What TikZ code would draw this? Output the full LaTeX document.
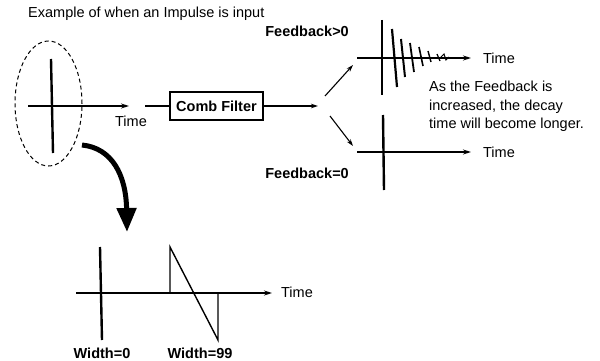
\documentclass[tikz,border=0pt]{standalone}
\usepackage{fontspec}
\setmainfont{Liberation Sans}
\usepackage{xcolor}
\usetikzlibrary{arrows.meta,positioning,shapes.geometric}

\begin{document}
\begin{tikzpicture}[
  x=1pt, y=-1pt,
  txt/.style={font=\fontsize{14.5}{18.5}\selectfont, inner sep=0pt},
  btxt/.style={font=\fontsize{14.5}{18.5}\selectfont\bfseries, inner sep=0pt},
  axis/.style={line width=1.2pt, -{Stealth[length=8pt,width=5pt]}},
  wire/.style={line width=1.2pt},
  arr/.style={line width=1.1pt, -{Stealth[length=7pt,width=4.5pt]}},
  spike/.style={line width=2.4pt},
  ramp/.style={line width=1.4pt, line join=miter},
  filterbox/.style={draw, line width=1.2pt, minimum width=93pt, minimum height=28pt,
    inner sep=0pt, font=\fontsize{14.5}{18.5}\selectfont\bfseries},
  bigarr/.style={line width=5pt, -{Triangle[length=24pt,width=19pt]}}
]
\useasboundingbox (0,0) rectangle (600,361);

% title
\node[txt, anchor=base west] (title) at (28,18) {Example of when an Impulse is input};

% input impulse
\node[draw, ellipse, dashed, dash pattern=on 4pt off 3pt, line width=1pt,
  minimum width=67pt, minimum height=125pt, inner sep=0pt] (ell) at (48.5,103.5) {};
\coordinate (in0) at (28,106);
\coordinate (inT) at (129,106);
\draw[axis] (in0) -- (inT);
\coordinate (imtop) at (51,59);
\coordinate (imbot) at (53,153);
\draw[spike] (imtop) -- (imbot);
\node[txt] (tin) at (131,121) {Time};

% comb filter
\coordinate (cfin) at (145,106);
\node[filterbox] (comb) at (216.5,106) {Comb Filter};
\draw[wire] (cfin) -- (comb.west);
\coordinate (split) at (318,106);
\draw[arr] (comb.east) -- (split);
\coordinate (upA) at (325,96);
\coordinate (upB) at (353,65);
\coordinate (dnA) at (330,116);
\coordinate (dnB) at (353,146);
\draw[arr] (upA) -- (upB);
\draw[arr] (dnA) -- (dnB);

\node[btxt, anchor=base east] (fbpos) at (349,37) {Feedback>0};
\node[btxt, anchor=base east] (fbzero) at (349,178) {Feedback=0};

% feedback > 0 : decaying echoes
\coordinate (up0) at (357,58);
\coordinate (upT) at (471,58);
\draw[axis] (up0) -- (upT);
\node[txt] (tup) at (499,58) {Time};
\foreach \xa/\ya/\xb/\yb/\w in {382/20/382/95/2.4, 392/29/397/87/2.2, 401/39/405/77/2,
    410/43/414/72/1.8, 419/47/423/66/1.6, 428/51/431/62/1.4, 437/54/440/61/1.2}
  \draw[line width=\w pt] (\xa,\ya) -- (\xb,\yb);
\draw[line width=1pt] (440,58) -- (444,54) -- (446,60) -- (449,57);

\node[txt, anchor=north west, align=left] (note) at (429,81)
  {As the Feedback is\\increased, the decay\\time will become longer.};

% feedback = 0
\coordinate (dn0) at (357,152);
\coordinate (dnT) at (471,152);
\draw[axis] (dn0) -- (dnT);
\node[txt] (tdn) at (499,152) {Time};
\coordinate (dntop) at (383,115);
\coordinate (dnbot) at (384,190);
\draw[spike] (dntop) -- (dnbot);

% big curved arrow
\coordinate (bigA) at (82,145);
\coordinate (bigB) at (127,232);
\draw[bigarr] (bigA) .. controls (112,148) and (126,175) .. (bigB);

% pulse width
\coordinate (pw0) at (76,293);
\coordinate (pwT) at (272,293);
\draw[axis] (pw0) -- (pwT);
\node[txt] (tpw) at (297,292) {Time};
\coordinate (w0top) at (100,247);
\coordinate (w0bot) at (102,340);
\draw[spike] (w0top) -- (w0bot);
\coordinate (w99a) at (170,293);
\coordinate (w99b) at (170,247);
\coordinate (w99c) at (218,340);
\coordinate (w99d) at (218,293);
\draw[ramp] (w99a) -- (w99b) -- (w99c) -- (w99d);
\node[btxt, anchor=base] (lw0) at (102,358) {Width=0};
\node[btxt, anchor=base] (lw99) at (200,358) {Width=99};
\end{tikzpicture}
\end{document}
